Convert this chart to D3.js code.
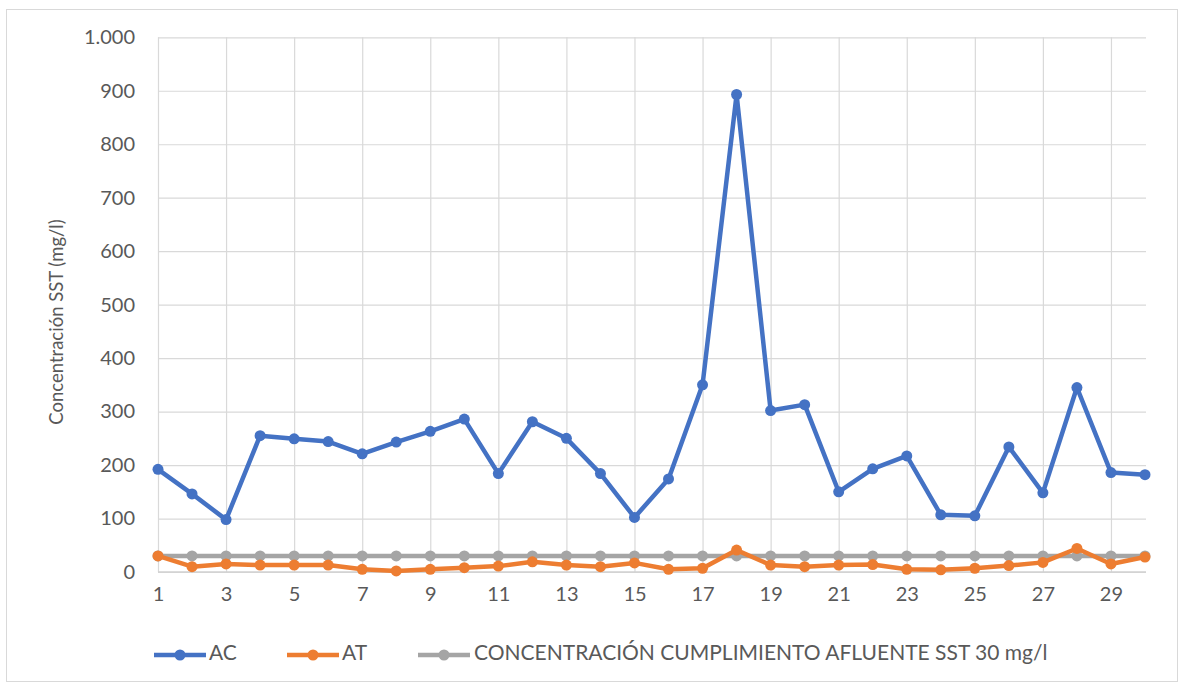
<!DOCTYPE html>
<html>
<head>
<meta charset="utf-8">
<script src="https://cdn.jsdelivr.net/npm/d3@7"></script>
<style>
  html, body { margin: 0; padding: 0; background: #ffffff; }
  svg { display: block; }
  text { font-family: Lato, "Open Sans", "Liberation Sans", sans-serif; fill: #595959; }
</style>
</head>
<body>
<svg id="chart" width="1179" height="683"></svg>
<script>
// Daily SST concentration (mg/l), days 1–30
const days = d3.range(1, 31);
const acValues = [192, 146, 98, 255, 249, 244, 221, 243, 263, 286,
                  184, 281, 250, 184, 102, 174, 350, 893, 302, 313,
                  150, 193, 217, 107, 105, 234, 148, 345, 186, 182];
const atValues = [30, 10, 15, 13, 13, 13, 5, 2, 5, 8,
                  11, 19, 13, 10, 17, 5, 7, 41, 13, 10,
                  13, 14, 5, 4, 7, 12, 18, 44, 15, 28];
const limitValues = days.map(() => 30);
const yTicks = [0, 100, 200, 300, 400, 500, 600, 700, 800, 900, 1000];
const xTicks = [1, 3, 5, 7, 9, 11, 13, 15, 17, 19, 21, 23, 25, 27, 29];

const seriesNames = ["AC", "AT", "CONCENTRACIÓN CUMPLIMIENTO AFLUENTE SST 30 mg/l"];
const seriesColors = ["#4472C4", "#ED7D31", "#A5A5A5"];
const seriesValues = [acValues, atValues, limitValues];
const yTitle = "Concentración SST (mg/l)";

const svg = d3.select("#chart");
const plot = { left: 158, right: 1146, top: 37.3, bottom: 572 };

const x = d3.scaleLinear().domain([1, 30]).range([plot.left, 1145]);
const y = d3.scaleLinear().domain([0, 1000]).range([plot.bottom, plot.top]);

const esFmt = d3.formatLocale({ decimal: ",", thousands: ".", grouping: [3], currency: ["", " €"] }).format(",d");

// chart frame
svg.append("rect")
  .attr("x", 6.5).attr("y", 9.5).attr("width", 1171).attr("height", 672)
  .attr("fill", "#ffffff").attr("stroke", "#d9d9d9").attr("stroke-width", 1);

// horizontal gridlines + value labels
const yAxis = d3.axisLeft(y).tickValues(yTicks).tickFormat(esFmt)
  .tickSize(-(plot.right - plot.left)).tickPadding(23);
const gy = svg.append("g").attr("transform", `translate(${plot.left},0)`).call(yAxis);
gy.select(".domain").remove();
gy.selectAll(".tick line").attr("stroke", "#d9d9d9").attr("stroke-width", 1.2);
gy.selectAll(".tick text").attr("font-size", 20).attr("fill", "#595959");

// vertical gridlines + day labels
const xAxis = d3.axisBottom(x).tickValues(xTicks).tickFormat(d3.format("d"))
  .tickSize(-(plot.bottom - plot.top)).tickPadding(15);
const gx = svg.append("g").attr("transform", `translate(0,${plot.bottom})`).call(xAxis);
gx.select(".domain").remove();
gx.selectAll(".tick line").attr("stroke", "#d9d9d9").attr("stroke-width", 1.2);
gx.selectAll(".tick text").attr("font-size", 20).attr("fill", "#595959");

// category axis baseline
svg.append("line")
  .attr("x1", plot.left).attr("x2", plot.right)
  .attr("y1", plot.bottom).attr("y2", plot.bottom)
  .attr("stroke", "#d0d0d0").attr("stroke-width", 1.3);

// y axis title
svg.append("text")
  .attr("transform", `translate(58,322) rotate(-90)`)
  .attr("text-anchor", "middle").attr("dominant-baseline", "middle")
  .attr("font-size", 18.5).text(yTitle);

// series lines and markers (limit first, then AT, then AC on top)
const line = d3.line().x((d, i) => x(days[i])).y(d => y(d));
[2, 1, 0].forEach(s => {
  const g = svg.append("g");
  g.append("path").datum(seriesValues[s])
    .attr("d", line).attr("fill", "none")
    .attr("stroke", seriesColors[s]).attr("stroke-width", 4.5)
    .attr("stroke-linejoin", "round");
  g.selectAll("circle").data(seriesValues[s]).join("circle")
    .attr("cx", (d, i) => x(days[i])).attr("cy", d => y(d))
    .attr("r", 5.5).attr("fill", seriesColors[s]);
});

// legend
const legendY = 655;
const legendItems = [
  { lineX: 154, textX: 209 },
  { lineX: 287, textX: 342 },
  { lineX: 418, textX: 474 }
];
legendItems.forEach((it, i) => {
  const g = svg.append("g");
  g.append("line")
    .attr("x1", it.lineX).attr("x2", it.lineX + 52)
    .attr("y1", legendY).attr("y2", legendY)
    .attr("stroke", seriesColors[i]).attr("stroke-width", 4.5);
  g.append("circle").attr("cx", it.lineX + 26).attr("cy", legendY).attr("r", 5.5)
    .attr("fill", seriesColors[i]);
  g.append("text").attr("x", it.textX).attr("y", legendY)
    .attr("dominant-baseline", "middle").attr("font-size", 21)
    .text(seriesNames[i]);
});
</script>
</body>
</html>
